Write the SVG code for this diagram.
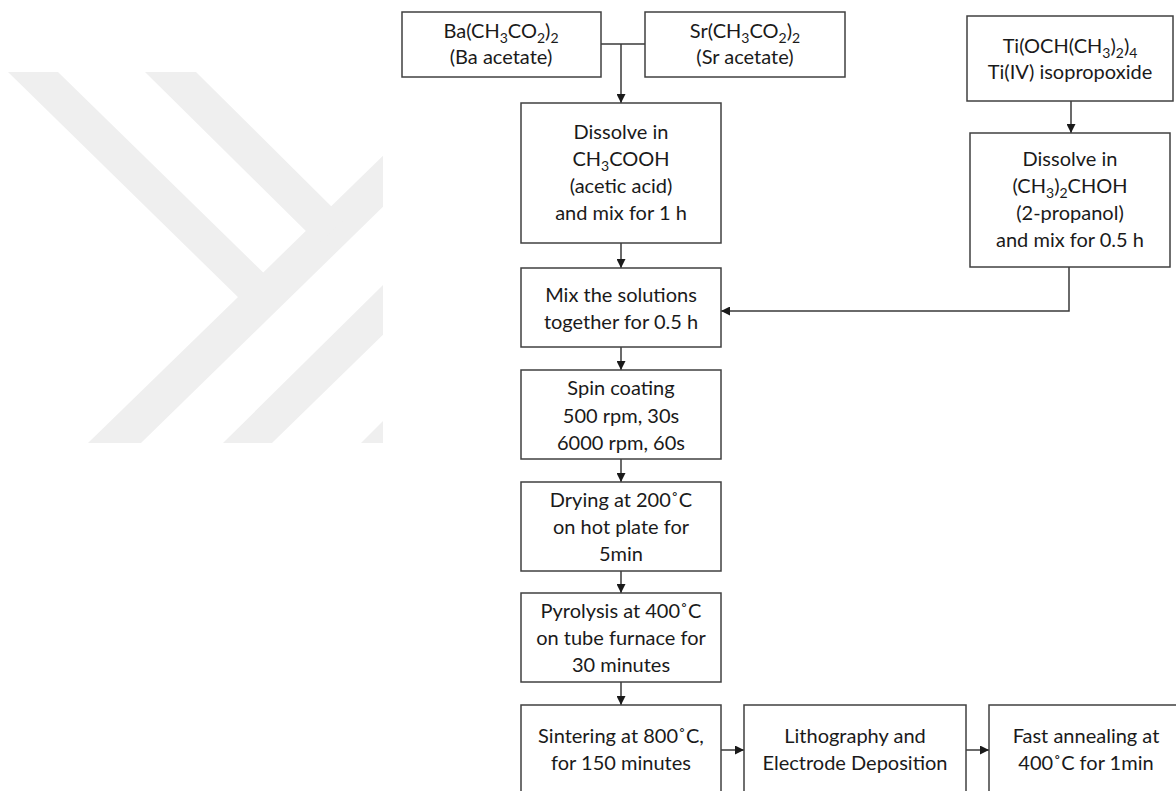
<svg xmlns="http://www.w3.org/2000/svg" width="1176" height="791" viewBox="0 0 1176 791">
<style>
.box{fill:#ffffff;stroke:#404040;stroke-width:1.5}
.t{font-family:Lato,"Open Sans","Liberation Sans",sans-serif;font-size:20px;fill:#1a1a1a;text-anchor:middle}
.s{font-size:14px}
.c{fill:none;stroke:#3a3a3a;stroke-width:1.5}
.wm{fill:#efefef}
</style>
<defs>
<marker id="ah" viewBox="0 0 10 10" refX="10" refY="5" markerWidth="9" markerHeight="9" markerUnits="userSpaceOnUse" orient="auto">
<path d="M0,0 L10,5 L0,10 z" fill="#1a1a1a"/>
</marker>
<clipPath id="wmclip"><rect x="0" y="0" width="383" height="791"/></clipPath>
</defs>
<rect x="0" y="0" width="1176" height="791" fill="#ffffff"/>
<g id="watermark" clip-path="url(#wmclip)">
<polygon class="wm" points="88,443 141,443 390,200 390,149"/>
<polygon class="wm" points="8,72 58,72 275,284 245,304"/>
<polygon class="wm" points="145,72 196,72 345,220 318,243"/>
<polygon class="wm" points="223,443 272,443 390,328 390,278"/>
<polygon class="wm" points="361,443 411,443 390,414"/>
</g>
<g id="connectors">
<path class="c" d="M601,44 H645"/>
<path class="c" d="M621,44 V103" marker-end="url(#ah)"/>
<path class="c" d="M621,243 V268" marker-end="url(#ah)"/>
<path class="c" d="M1071,101 V133" marker-end="url(#ah)"/>
<path class="c" d="M1069,267 V311 H721" marker-end="url(#ah)"/>
<path class="c" d="M621,347 V370" marker-end="url(#ah)"/>
<path class="c" d="M621,459 V482" marker-end="url(#ah)"/>
<path class="c" d="M621,571 V593" marker-end="url(#ah)"/>
<path class="c" d="M621,682 V705" marker-end="url(#ah)"/>
<path class="c" d="M721,750 H744" marker-end="url(#ah)"/>
<path class="c" d="M966,750 H989" marker-end="url(#ah)"/>
</g>
<g id="ba">
<rect class="box" x="402" y="12" width="199" height="65"/>
<text class="t" x="501" y="38">Ba(CH<tspan class="s" dy="5">3</tspan><tspan dy="-5">CO</tspan><tspan class="s" dy="5">2</tspan><tspan dy="-5">)</tspan><tspan class="s" dy="5">2</tspan></text>
<text class="t" x="501" y="64">(Ba acetate)</text>
</g>
<g id="sr">
<rect class="box" x="645" y="12" width="200" height="65"/>
<text class="t" x="745" y="38">Sr(CH<tspan class="s" dy="5">3</tspan><tspan dy="-5">CO</tspan><tspan class="s" dy="5">2</tspan><tspan dy="-5">)</tspan><tspan class="s" dy="5">2</tspan></text>
<text class="t" x="745" y="64">(Sr acetate)</text>
</g>
<g id="ti">
<rect class="box" x="967" y="16" width="206" height="85"/>
<text class="t" x="1070" y="53">Ti(OCH(CH<tspan class="s" dy="5">3</tspan><tspan dy="-5">)</tspan><tspan class="s" dy="5">2</tspan><tspan dy="-5">)</tspan><tspan class="s" dy="5">4</tspan></text>
<text class="t" x="1070" y="79">Ti(IV) isopropoxide</text>
</g>
<g id="dissolve1">
<rect class="box" x="521" y="103" width="200" height="140"/>
<text class="t" x="621" y="139">Dissolve in</text>
<text class="t" x="621" y="166">CH<tspan class="s" dy="5">3</tspan><tspan dy="-5">COOH</tspan></text>
<text class="t" x="621" y="193">(acetic acid)</text>
<text class="t" x="621" y="220">and mix for 1 h</text>
</g>
<g id="dissolve2">
<rect class="box" x="970" y="133" width="200" height="134"/>
<text class="t" x="1070" y="166">Dissolve in</text>
<text class="t" x="1070" y="193">(CH<tspan class="s" dy="5">3</tspan><tspan dy="-5">)</tspan><tspan class="s" dy="5">2</tspan><tspan dy="-5">CHOH</tspan></text>
<text class="t" x="1070" y="220">(2-propanol)</text>
<text class="t" x="1070" y="247">and mix for 0.5 h</text>
</g>
<g id="mix">
<rect class="box" x="521" y="268" width="200" height="79"/>
<text class="t" x="621" y="302">Mix the solutions</text>
<text class="t" x="621" y="329">together for 0.5 h</text>
</g>
<g id="spin">
<rect class="box" x="521" y="370" width="200" height="89"/>
<text class="t" x="621" y="395">Spin coating</text>
<text class="t" x="621" y="423">500 rpm, 30s</text>
<text class="t" x="621" y="450">6000 rpm, 60s</text>
</g>
<g id="drying">
<rect class="box" x="521" y="482" width="200" height="89"/>
<text class="t" x="621" y="507">Drying at 200˚C</text>
<text class="t" x="621" y="534">on hot plate for</text>
<text class="t" x="621" y="561">5min</text>
</g>
<g id="pyrolysis">
<rect class="box" x="521" y="593" width="200" height="89"/>
<text class="t" x="621" y="618">Pyrolysis at 400˚C</text>
<text class="t" x="621" y="645">on tube furnace for</text>
<text class="t" x="621" y="672">30 minutes</text>
</g>
<g id="sintering">
<rect class="box" x="521" y="705" width="200" height="100"/>
<text class="t" x="621" y="743">Sintering at 800˚C,</text>
<text class="t" x="621" y="770">for 150 minutes</text>
</g>
<g id="lithography">
<rect class="box" x="744" y="705" width="222" height="100"/>
<text class="t" x="855" y="743">Lithography and</text>
<text class="t" x="855" y="770">Electrode Deposition</text>
</g>
<g id="annealing">
<rect class="box" x="989" y="705" width="200" height="100"/>
<text class="t" x="1086" y="743">Fast annealing at</text>
<text class="t" x="1086" y="770">400˚C for 1min</text>
</g>
</svg>
